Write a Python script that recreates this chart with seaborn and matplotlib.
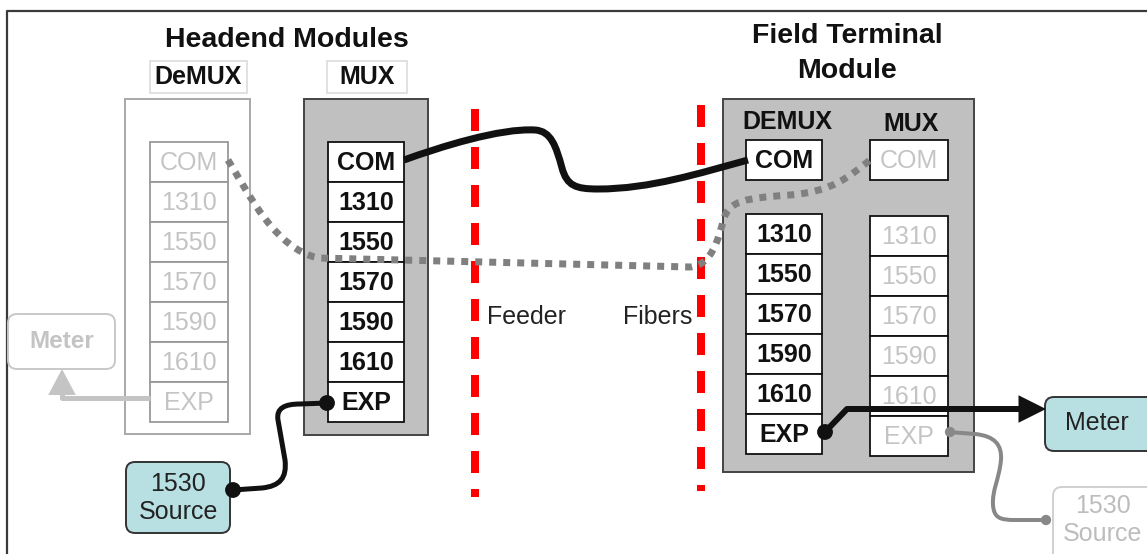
import matplotlib
matplotlib.use("Agg")
import matplotlib.pyplot as plt
import seaborn as sns
import pandas as pd
from matplotlib.patches import Rectangle, FancyBboxPatch, PathPatch, FancyArrowPatch
from matplotlib.path import Path

# ---------------- content ----------------
headend_title = "Headend Modules"
field_title = "Field Terminal\nModule"
headend_demux_label = "DeMUX"
headend_mux_label = "MUX"
field_demux_label = "DEMUX"
field_mux_label = "MUX"
port_labels = ["COM", "1310", "1550", "1570", "1590", "1610", "EXP"]
feeder_labels = ["Feeder", "Fibers"]
meter_label = "Meter"
source_label = "1530\nSource"

# ---------------- style ----------------
sns.set_theme(style="white")
plt.rcParams['font.family'] = ['Liberation Sans', 'DejaVu Sans']

BLACK = "#111111"
GHOST_TXT = "#c4c4c4"
GHOST_EDGE = "#a8a8a8"
MOD_FILL = "#c0c0c0"
CYAN = "#b8e0e3"
RED = "#ff0000"
PX = 0.72  # points per pixel at dpi 100
FS = 18
TFS = 20.5

fig = plt.figure(figsize=(11.47, 5.54), dpi=100)
ax = fig.add_axes([0, 0, 1, 1])
ax.set_xlim(0, 1147)
ax.set_ylim(554, 0)
ax.axis('off')

# outer frame (top and left edges)
frame = pd.DataFrame({"x": [7, 7, 1147], "y": [554, 11, 11]})
sns.lineplot(data=frame, x="x", y="y", sort=False, estimator=None,
             color="#3a3a3a", lw=1.6, ax=ax, zorder=1)


def rect(x0, y0, x1, y1, fc, ec, lw=1.2, z=2):
    ax.add_patch(Rectangle((x0, y0), x1 - x0, y1 - y0, facecolor=fc,
                           edgecolor=ec, lw=lw, zorder=z))


def rbox(x0, y0, x1, y1, fc, ec, lw=1.2, z=2):
    ax.add_patch(FancyBboxPatch((x0, y0), x1 - x0, y1 - y0,
                                boxstyle="round,pad=0,rounding_size=9",
                                facecolor=fc, edgecolor=ec, lw=lw, zorder=z))


def ports(x0, x1, y0, labels, h, ec, tc, weight, z=3):
    for i, lab in enumerate(labels):
        yy = y0 + i * h
        rect(x0, yy, x1, yy + h, "white", ec, lw=1.3, z=z)
        ax.text((x0 + x1) / 2, yy + h / 2 + 1, lab, ha="center", va="center",
                fontsize=FS, color=tc, fontweight=weight, zorder=z + 1)


# ---------------- titles ----------------
ax.text(287, 40, headend_title, ha="center", va="center", fontsize=TFS,
        fontweight="bold", color=BLACK)
ax.text(847, 36, field_title.split("\n")[0], ha="center", va="center",
        fontsize=TFS, fontweight="bold", color=BLACK)
ax.text(847, 71, field_title.split("\n")[1], ha="center", va="center",
        fontsize=TFS, fontweight="bold", color=BLACK)

rect(150, 61, 247, 93, "white", "#dcdcdc", lw=1.2)
ax.text(198, 77, headend_demux_label, ha="center", va="center", fontsize=FS,
        fontweight="bold", color=BLACK)
rect(327, 61, 407, 93, "white", "#dcdcdc", lw=1.2)
ax.text(367, 77, headend_mux_label, ha="center", va="center", fontsize=FS,
        fontweight="bold", color=BLACK)

# ---------------- headend modules ----------------
rect(125, 99, 250, 434, "white", GHOST_EDGE, lw=1.4)
ports(150, 228, 142, port_labels, 40, "#999999", GHOST_TXT, "normal")

rect(304, 99, 428, 435, MOD_FILL, "#444444", lw=1.4)
ports(328, 404, 142, port_labels, 40, BLACK, BLACK, "bold")

# ---------------- field terminal module ----------------
rect(723, 99, 974, 472, MOD_FILL, "#444444", lw=1.4)
ax.text(787, 122, field_demux_label, ha="center", va="center", fontsize=FS,
        fontweight="bold", color=BLACK)
ax.text(911, 124, field_mux_label, ha="center", va="center", fontsize=FS,
        fontweight="bold", color=BLACK)
ports(746, 822, 140, port_labels[:1], 40, BLACK, BLACK, "bold")
ports(746, 822, 214, port_labels[1:], 40, BLACK, BLACK, "bold")
ports(870, 948, 140, port_labels[:1], 40, BLACK, GHOST_TXT, "normal")
ports(870, 948, 216, port_labels[1:], 40, BLACK, GHOST_TXT, "normal")

# ---------------- feeder fibers ----------------
for xr, y0, y1 in [(475, 109, 497), (701, 105, 491)]:
    ax.plot([xr, xr], [y0, y1], color=RED, lw=8 * PX,
            linestyle=(0, (2.75, 2.0)), solid_capstyle="butt",
            dash_capstyle="butt", zorder=2)
ax.text(487, 317, feeder_labels[0], ha="left", va="center", fontsize=FS,
        color="#222222")
ax.text(692, 317, feeder_labels[1], ha="right", va="center", fontsize=FS,
        color="#222222")

# ---------------- boxes: meter / source ----------------
rbox(8, 314, 115, 369, "white", "#c8c8c8", lw=1.4)
ax.text(62, 342, meter_label, ha="center", va="center", fontsize=FS - 0.5,
        fontweight="bold", color=GHOST_TXT)

rbox(126, 462, 230, 533, CYAN, "#333333", lw=1.4)
ax.text(178, 498, source_label, ha="center", va="center", fontsize=FS,
        color="#222222", linespacing=1.2)

rbox(1045, 397, 1160, 451, CYAN, "#333333", lw=1.4)
ax.text(1097, 423, meter_label, ha="center", va="center", fontsize=FS,
        color="#222222")

rbox(1053, 487, 1165, 570, "white", "#d0d0d0", lw=1.4)
ax.text(1103, 520, source_label, ha="center", va="center", fontsize=FS,
        color="#bdbdbd", linespacing=1.2)


# ---------------- cables ----------------
def cable(verts, codes, color, lw, ls="-", z=6):
    p = Path(verts, codes)
    ax.add_patch(PathPatch(p, facecolor="none", edgecolor=color, lw=lw,
                           linestyle=ls, capstyle="butt", joinstyle="round",
                           zorder=z))


M, L, C = Path.MOVETO, Path.LINETO, Path.CURVE4

# main black fiber: headend MUX COM -> field DEMUX COM
cable([(404, 160), (440, 147), (500, 128), (535, 130),
       (551, 131), (556, 146), (562, 168),
       (567, 186), (576, 189), (598, 189),
       (650, 189), (700, 173), (748, 160)],
      [M, C, C, C, C, C, C, C, C, C, C, C, C], BLACK, 7 * PX)

# grey dotted fiber: headend DeMUX COM -> field MUX COM
cable([(228, 160), (250, 196), (275, 248), (318, 258),
       (690, 267),
       (712, 265), (718, 240), (724, 218),
       (730, 201), (745, 198), (790, 195),
       (832, 192), (850, 176), (870, 160)],
      [M, C, C, C, L, C, C, C, C, C, C, C, C, C], "#808080", 7 * PX,
      ls=(0, (1, 1)), z=5)

# black jumper: 1530 source -> headend MUX EXP
cable([(233, 490), (262, 488),
       (280, 486), (287, 478), (285, 460),
       (278, 420),
       (276, 408), (285, 404), (300, 404),
       (327, 403)],
      [M, L, C, C, C, L, C, C, C, L], BLACK, 5 * PX)

# grey jumper: field MUX EXP -> ghost source
cable([(948, 432), (975, 434),
       (995, 436), (1002, 445), (1001, 460),
       (999, 480), (992, 490), (993, 505),
       (994, 518), (1000, 520), (1015, 520),
       (1047, 520)],
      [M, L, C, C, C, C, C, C, C, C, C, L], "#888888", 4 * PX)

# black jumper: field DEMUX EXP -> meter (arrow)
cable([(825, 432), (847, 409), (1020, 409)], [M, L, L], BLACK, 6 * PX)
ax.add_patch(FancyArrowPatch((1010, 409), (1046, 409),
                             arrowstyle="-|>,head_length=0.9,head_width=0.45",
                             mutation_scale=22, color=BLACK, lw=0,
                             shrinkA=0, shrinkB=0, zorder=7))

# grey ghost jumper: headend DeMUX EXP -> ghost meter (arrow)
cable([(150, 398), (62, 398), (62, 385)], [M, L, L], "#c4c4c4", 5 * PX, z=4)
ax.add_patch(FancyArrowPatch((62, 390), (62, 369),
                             arrowstyle="-|>,head_length=0.85,head_width=0.45",
                             mutation_scale=22, color="#c4c4c4", lw=0,
                             shrinkA=0, shrinkB=0, zorder=4))

# connector dots
black_dots = pd.DataFrame({"x": [233, 327, 825], "y": [490, 403, 432]})
sns.scatterplot(data=black_dots, x="x", y="y", s=130, color=BLACK,
                edgecolor="none", ax=ax, zorder=8)
grey_dots = pd.DataFrame({"x": [950, 1046], "y": [432, 520]})
sns.scatterplot(data=grey_dots, x="x", y="y", s=55, color="#888888",
                edgecolor="none", ax=ax, zorder=8)

ax.set_xlim(0, 1147)
ax.set_ylim(554, 0)
ax.axis('off')
fig.savefig("out.png", dpi=100)
